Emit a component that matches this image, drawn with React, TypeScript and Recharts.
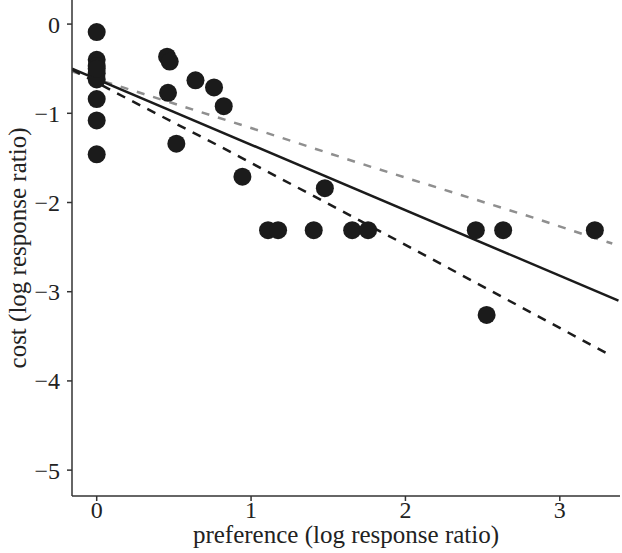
import React from "react";
import {
  ComposedChart,
  Scatter,
  Line,
  XAxis,
  YAxis,
  Label,
} from "recharts";

// points
const prefX = [
  0, 0, 0, 0, 0, 0, 0, 0, 0,
  0.456, 0.473, 0.462, 0.64, 0.76, 0.823, 0.516, 0.944, 1.478,
  1.11, 1.175, 1.406, 1.655, 1.758, 2.456, 2.633, 3.227, 2.526,
];
const costY = [
  -0.09, -0.4, -0.47, -0.55, -0.62, -0.84, -1.08, -1.46, -0.5,
  -0.365, -0.42, -0.77, -0.63, -0.71, -0.92, -1.34, -1.71, -1.84,
  -2.31, -2.31, -2.31, -2.31, -2.31, -2.31, -2.31, -2.31, -3.26,
];

// fitted lines
const solidX = [-0.16, 3.38];
const solidY = [-0.5, -3.1];
const dashX = [-0.16, 0.203, 0.797, 1.942, 3.325];
const dashY = [-0.51, -0.84, -1.37, -2.42, -3.71];
const greyX = [-0.16, 0.235, 1.1, 1.704, 2.828, 3.195, 3.34];
const greyY = [-0.53, -0.745, -1.22, -1.56, -2.17, -2.38, -2.46];

const xTicks = [0, 1, 2, 3];
const yTicks = [-5, -4, -3, -2, -1, 0];

const toRows = (xs: number[], ys: number[]) =>
  xs.map((x, i) => ({ x, y: ys[i] }));

const points = toRows(prefX, costY);
const solid = toRows(solidX, solidY);
const dashed = toRows(dashX, dashY);
const grey = toRows(greyX, greyY);

const FONT = '"Liberation Serif", "DejaVu Serif", serif';
const tickStyle = { fontFamily: FONT, fontSize: 24, fill: "#222" };
const fmt = (v: number) => (v < 0 ? `\u2212${Math.abs(v)}` : `${v}`);

const Dot = (props: any) => (
  <circle cx={props.cx} cy={props.cy} r={9} fill="#1b1b1b" />
);

export default function App() {
  return (
    <div style={{ position: "absolute", left: 0, top: 0, background: "#fff" }}>
      <ComposedChart
        width={622}
        height={553}
        margin={{ top: 0, right: 2, bottom: 0, left: 0 }}
      >
        <XAxis
          type="number"
          dataKey="x"
          domain={[-0.16, 3.39]}
          ticks={xTicks}
          allowDataOverflow
          height={57}
          tickSize={5}
          tickMargin={0}
          tick={tickStyle}
          tickFormatter={fmt}
          stroke="#333"
          strokeWidth={1.5}
        >
          <Label
            content={({ viewBox }: any) => (
              <text
                x={viewBox.x + viewBox.width / 2}
                y={543}
                textAnchor="middle"
                fontFamily={FONT}
                fontSize={25}
                fill="#222"
              >
                preference (log response ratio)
              </text>
            )}
          />
        </XAxis>
        <YAxis
          type="number"
          dataKey="y"
          domain={[-5.29, 0.27]}
          ticks={yTicks}
          allowDataOverflow
          width={72}
          tickSize={5}
          tickMargin={7}
          tick={tickStyle}
          tickFormatter={fmt}
          stroke="#333"
          strokeWidth={1.5}
        >
          <Label
            content={({ viewBox }: any) => {
              const cy = viewBox.y + viewBox.height / 2;
              return (
                <text
                  x={26}
                  y={cy}
                  transform={`rotate(-90, 26, ${cy})`}
                  textAnchor="middle"
                  fontFamily={FONT}
                  fontSize={25}
                  fill="#222"
                >
                  cost (log response ratio)
                </text>
              );
            }}
          />
        </YAxis>
        <Scatter data={points} shape={Dot} isAnimationActive={false} />
        <Line
          data={grey}
          dataKey="y"
          type="linear"
          stroke="#8f8f8f"
          strokeWidth={2.5}
          strokeDasharray="8 9"
          dot={false}
          activeDot={false}
          isAnimationActive={false}
        />
        <Line
          data={dashed}
          dataKey="y"
          type="linear"
          stroke="#1b1b1b"
          strokeWidth={2.5}
          strokeDasharray="9 8"
          dot={false}
          activeDot={false}
          isAnimationActive={false}
        />
        <Line
          data={solid}
          dataKey="y"
          type="linear"
          stroke="#1b1b1b"
          strokeWidth={2.5}
          dot={false}
          activeDot={false}
          isAnimationActive={false}
        />
      </ComposedChart>
    </div>
  );
}
